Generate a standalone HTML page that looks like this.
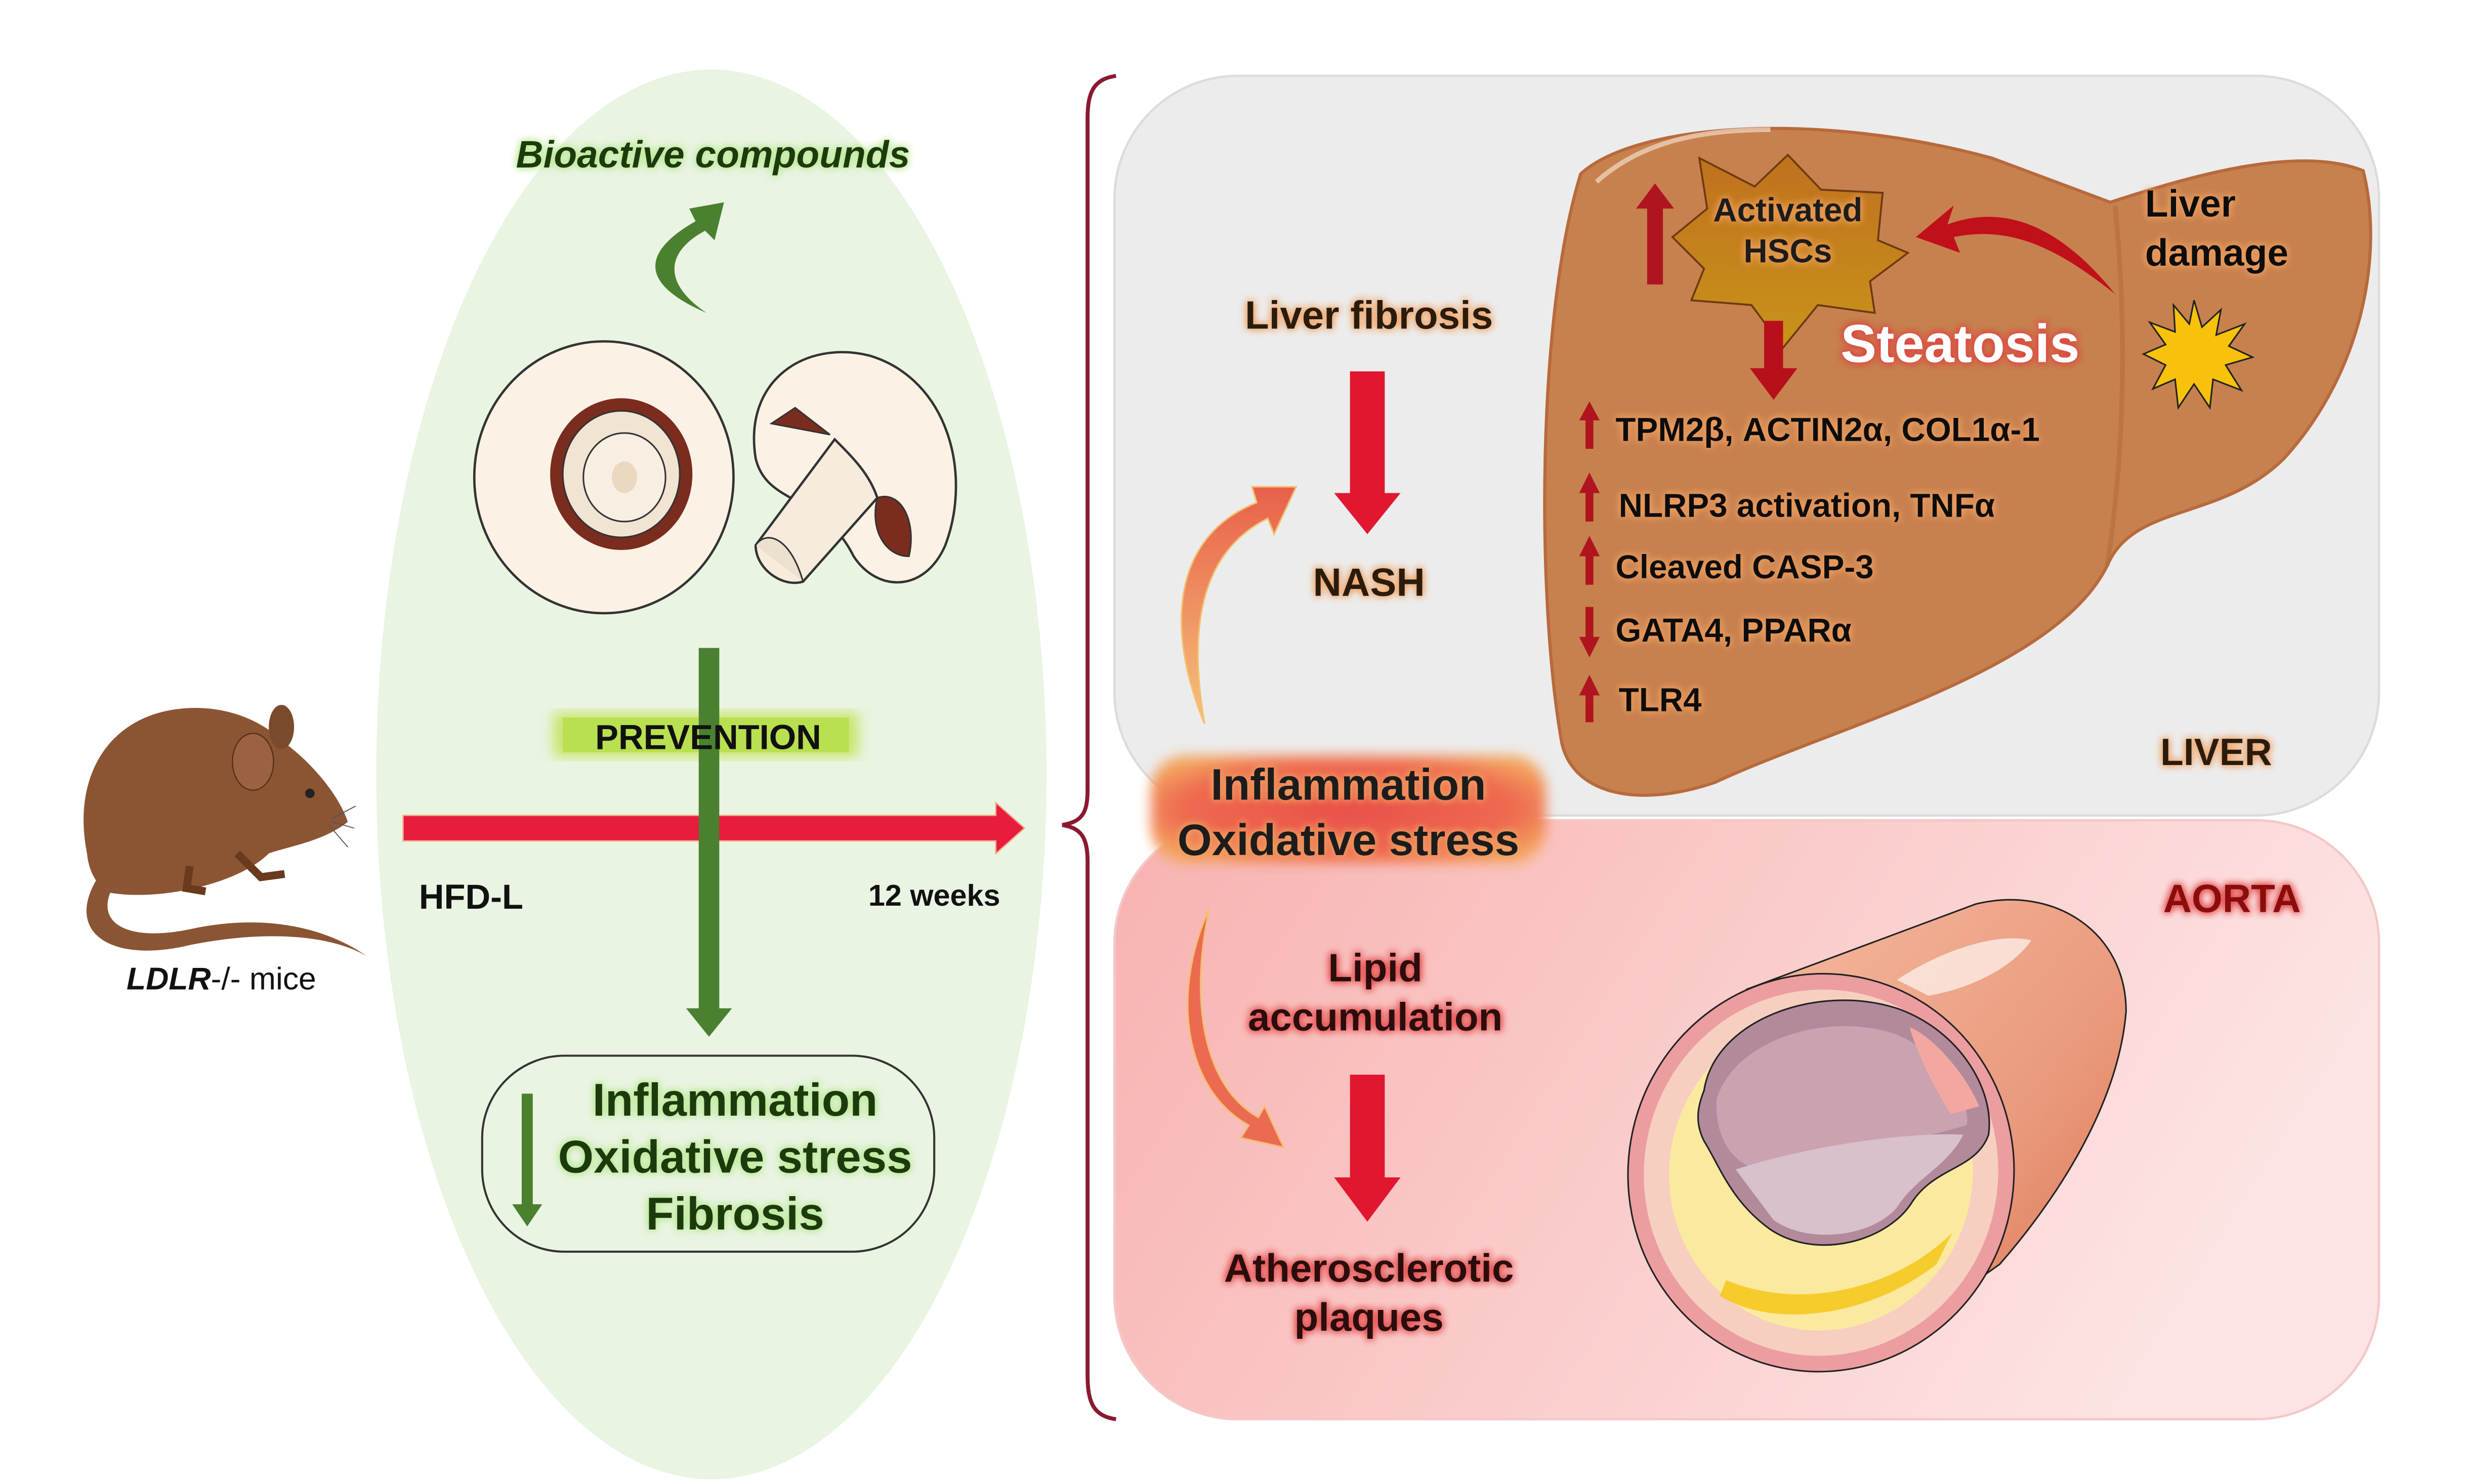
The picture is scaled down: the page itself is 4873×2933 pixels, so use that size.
<!DOCTYPE html>
<html><head><meta charset="utf-8"><style>
html,body{margin:0;padding:0;background:#fff}
svg{display:block}
text{font-family:"Liberation Sans",sans-serif;font-weight:bold}
</style></head><body>
<svg width="4873" height="2933" viewBox="0 0 1560 939" xmlns="http://www.w3.org/2000/svg">
<defs>
<filter id="glowO" x="-20%" y="-40%" width="140%" height="180%"><feGaussianBlur in="SourceAlpha" stdDeviation="2.5" result="b"/><feFlood flood-color="#f0a060"/><feComposite in2="b" operator="in"/><feMerge><feMergeNode/><feMergeNode/><feMergeNode in="SourceGraphic"/></feMerge></filter>
<filter id="glowR" x="-20%" y="-40%" width="140%" height="180%"><feGaussianBlur in="SourceAlpha" stdDeviation="2.5" result="b"/><feFlood flood-color="#e04040"/><feComposite in2="b" operator="in"/><feMerge><feMergeNode/><feMergeNode/><feMergeNode in="SourceGraphic"/></feMerge></filter>
<filter id="glowG" x="-20%" y="-40%" width="140%" height="180%"><feGaussianBlur in="SourceAlpha" stdDeviation="2.5" result="b"/><feFlood flood-color="#b8e890"/><feComposite in2="b" operator="in"/><feMerge><feMergeNode/><feMergeNode/><feMergeNode in="SourceGraphic"/></feMerge></filter>
<filter id="blur4"><feGaussianBlur stdDeviation="4"/></filter>
<linearGradient id="aortaBg" x1="0" y1="0" x2="1" y2="0.3"><stop offset="0" stop-color="#f7b2b0"/><stop offset="1" stop-color="#fde3e3"/></linearGradient>
<linearGradient id="tube" x1="0" y1="0" x2="1" y2="1"><stop offset="0" stop-color="#f5b9a0"/><stop offset="0.6" stop-color="#ea9a7c"/><stop offset="1" stop-color="#d9704f"/></linearGradient>
<linearGradient id="orArr" x1="0" y1="1" x2="0" y2="0"><stop offset="0" stop-color="#f6c27a"/><stop offset="1" stop-color="#e8604a"/></linearGradient>
<radialGradient id="inflBox" cx="0.5" cy="0.5" r="0.6"><stop offset="0" stop-color="#e8504a"/><stop offset="0.7" stop-color="#ef6a50"/><stop offset="1" stop-color="#f4a860"/></radialGradient>
<linearGradient id="hsc" x1="0" y1="0" x2="0" y2="1"><stop offset="0" stop-color="#c0701e"/><stop offset="1" stop-color="#c8941a"/></linearGradient>
</defs>

<ellipse cx="450" cy="490" rx="212" ry="446" fill="#e9f4e2"/>

<path d="M706,48 C692,50 688,58 688,75 L688,500 C688,515 684,520 672,522 C684,524 688,530 688,545 L688,870 C688,888 692,896 706,898" fill="none" stroke="#8a1a30" stroke-width="2.5"/>

<rect x="705" y="48" width="800" height="468" rx="78" fill="#ececec" stroke="#dcdcdc" stroke-width="1.5"/>
<rect x="705" y="519" width="800" height="379" rx="78" fill="url(#aortaBg)" stroke="#f4c8c8" stroke-width="1.5"/>

<path d="M1000,110 C1035,78 1150,70 1260,100 L1335,128 C1390,110 1455,92 1495,108 C1508,160 1495,235 1445,290 C1405,330 1350,318 1333,358 C1300,425 1160,460 1085,495 C1035,512 995,502 988,470 C972,380 972,200 1000,110 Z" fill="#c7814f" stroke="#b86a3c" stroke-width="2"/>
<path d="M1338,130 C1345,200 1345,280 1333,358" fill="none" stroke="#b56c3f" stroke-width="3" opacity="0.6"/>
<path d="M1010,115 C1040,88 1080,82 1120,82" fill="none" stroke="#f4dcc8" stroke-width="3" opacity="0.7"/>

<polygon points="1131,98 1152,120 1191,122 1188,152 1207,160 1183,178 1186,198 1150,193 1128,220 1108,193 1070,190 1078,170 1058,150 1080,132 1075,100 1110,118" fill="url(#hsc)" stroke="#6e3a10" stroke-width="1.2"/>
<text x="1131" y="140" font-size="21" text-anchor="middle" fill="#1a1a1a" filter="url(#glowO)">Activated</text>
<text x="1131" y="166" font-size="21" text-anchor="middle" fill="#1a1a1a" filter="url(#glowO)">HSCs</text>
<polygon points="1042,180 1052,180 1052,132 1059,132 1047,116 1035,132 1042,132" fill="#b0151f"/>
<path d="M1338,186 C1305,145 1270,128 1232,142 L1236,130 L1212,150 L1240,160 L1236,150 C1275,142 1305,160 1338,186 Z" fill="#c0101a"/>
<text x="1357" y="137" font-size="24" fill="#111" filter="url(#glowO)">Liver</text>
<text x="1357" y="168" font-size="24" fill="#111" filter="url(#glowO)">damage</text>
<polygon points="1388,190 1393,207 1405,196 1402,212 1420,205 1410,219 1425,226 1408,231 1418,247 1400,240 1398,258 1388,243 1378,258 1376,240 1362,246 1370,231 1356,224 1370,218 1360,204 1376,210 1375,193 1385,205" fill="#f8c20a" stroke="#222" stroke-width="1"/>
<text x="1240" y="229" font-size="34" text-anchor="middle" fill="#fff" filter="url(#glowR)">Steatosis</text>
<polygon points="1116,203 1128,203 1128,233 1137,233 1122,253 1107,233 1116,233" fill="#b8101a"/>

<g font-size="21" fill="#111" filter="url(#glowO)">
<text x="1022" y="279">TPM2β, ACTIN2α, COL1α-1</text>
<text x="1024" y="327">NLRP3 activation, TNFα</text>
<text x="1022" y="366">Cleaved CASP-3</text>
<text x="1022" y="406">GATA4, PPARα</text>
<text x="1024" y="450">TLR4</text>
</g>
<g fill="#b0151f">
<polygon points="1003,284 1008,284 1008,266 1012,266 1005.5,254 999,266 1003,266"/>
<polygon points="1003,330 1008,330 1008,312 1012,312 1005.5,299 999,312 1003,312"/>
<polygon points="1003,370 1008,370 1008,352 1012,352 1005.5,339 999,352 1003,352"/>
<polygon points="1003,384 1008,384 1008,403 1012,403 1005.5,416 999,403 1003,403"/>
<polygon points="1003,457 1008,457 1008,440 1012,440 1005.5,427 999,440 1003,440"/>
</g>
<text x="1402" y="484" font-size="24" text-anchor="middle" fill="#2a1a0a" filter="url(#glowO)">LIVER</text>

<text x="866" y="208" font-size="25" text-anchor="middle" fill="#2a1a0a" filter="url(#glowO)">Liver fibrosis</text>
<polygon points="854,235 876,235 876,312 886,312 865,338 844,312 854,312" fill="#e0172f"/>
<text x="866" y="377" font-size="25" text-anchor="middle" fill="#2a1a0a" filter="url(#glowO)">NASH</text>
<path d="M762,458 C738,400 740,340 795,318 L792,308 L820,308 L806,338 L802,328 C758,350 752,400 762,458 Z" fill="url(#orArr)" stroke="#f2c070" stroke-width="1"/>
<path d="M765,575 C740,630 750,690 790,712 L785,720 L812,726 L800,700 L796,707 C762,688 752,635 765,575 Z" fill="#ec6a50" stroke="#f2c070" stroke-width="1"/>

<rect x="728" y="478" width="250" height="68" rx="22" fill="url(#inflBox)" filter="url(#blur4)"/>
<text x="853" y="506" font-size="28" text-anchor="middle" fill="#1a1a1a" filter="url(#glowO)">Inflammation</text>
<text x="853" y="541" font-size="28" text-anchor="middle" fill="#1a1a1a" filter="url(#glowO)">Oxidative stress</text>

<text x="1412" y="577" font-size="25" text-anchor="middle" fill="#8a0a10" filter="url(#glowR)">AORTA</text>
<text x="870" y="621" font-size="25" text-anchor="middle" fill="#2a0a0a" filter="url(#glowR)">Lipid</text>
<text x="870" y="652" font-size="25" text-anchor="middle" fill="#2a0a0a" filter="url(#glowR)">accumulation</text>
<polygon points="854,680 876,680 876,745 886,745 865,773 844,745 854,745" fill="#e0172f"/>
<text x="866" y="811" font-size="25" text-anchor="middle" fill="#2a0a0a" filter="url(#glowR)">Atherosclerotic</text>
<text x="866" y="842" font-size="25" text-anchor="middle" fill="#2a0a0a" filter="url(#glowR)">plaques</text>

<path d="M1105,626 L1250,572 C1300,560 1345,590 1345,640 C1340,700 1300,760 1265,800 L1180,860 Z" fill="url(#tube)" stroke="#222" stroke-width="1"/>
<path d="M1200,620 C1230,600 1265,590 1285,595 C1275,610 1250,625 1220,630 Z" fill="#fbe4dc" opacity="0.9"/>
<ellipse cx="1152" cy="742" rx="122" ry="126" transform="rotate(10 1152 742)" fill="#ec9da0" stroke="#222" stroke-width="1"/>
<ellipse cx="1152" cy="742" rx="112" ry="116" transform="rotate(10 1152 742)" fill="#f6cfc0"/>
<ellipse cx="1152" cy="742" rx="96" ry="100" transform="rotate(10 1152 742)" fill="#fbe9a0"/>
<path d="M1078,690 C1085,645 1150,622 1200,638 C1240,652 1262,690 1258,718 C1250,740 1225,738 1210,760 C1195,785 1150,798 1120,778 C1095,760 1088,738 1078,722 C1072,710 1074,700 1078,690 Z" fill="#b28a9c" stroke="#222" stroke-width="1"/>
<path d="M1086,695 C1098,658 1155,640 1198,654 C1230,666 1248,700 1244,712 C1210,722 1170,728 1120,740 C1098,742 1084,720 1086,695 Z" fill="#caa2b0"/>
<path d="M1098,740 C1140,726 1205,716 1242,718 C1232,738 1212,745 1200,764 C1185,782 1145,788 1122,772 Z" fill="#d8c0cc"/>
<path d="M1208,650 C1222,655 1244,680 1252,700 L1234,705 C1225,690 1214,670 1208,650 Z" fill="#f2a8a0"/>
<path d="M1088,820 C1120,840 1180,835 1225,800 L1235,780 C1200,815 1140,830 1092,810 Z" fill="#f5c410" opacity="0.8"/>

<path d="M447,198 C405,180 405,160 440,140 L436,132 L458,128 L452,152 L446,146 C420,160 420,180 447,198 Z" fill="#4a8030"/>
<text x="451" y="106" font-size="24" font-style="italic" text-anchor="middle" fill="#1a3a0a" filter="url(#glowG)">Bioactive compounds</text>

<ellipse cx="382" cy="302" rx="82" ry="86" fill="#fbf1e4" stroke="#333" stroke-width="1.5"/>
<ellipse cx="393" cy="300" rx="45" ry="48" fill="#7a2c1e"/>
<ellipse cx="393" cy="300" rx="37" ry="40" fill="#f2e4d2" stroke="#333" stroke-width="1"/>
<ellipse cx="395" cy="302" rx="26" ry="28" fill="#f8efe3" stroke="#333" stroke-width="1"/>
<ellipse cx="395" cy="302" rx="8" ry="10" fill="#ead8c0"/>
<path d="M478,290 C470,240 510,215 550,225 C600,240 615,300 598,345 C585,375 555,375 540,352 C520,312 485,320 478,290 Z" fill="#fbf1e4" stroke="#333" stroke-width="1.5"/>
<path d="M488,268 L503,258 L525,275 Z" fill="#7a2c1e" stroke="#333" stroke-width="1"/>
<path d="M555,315 C570,310 580,330 575,352 C560,352 550,335 555,315 Z" fill="#7a2c1e" stroke="#333" stroke-width="1"/>
<path d="M478,345 L528,278 C540,290 550,300 555,315 L508,368 C495,372 478,360 478,345 Z" fill="#f6ebdc" stroke="#333" stroke-width="1.5"/>
<path d="M478,345 C485,335 500,340 508,368" fill="#ece0cf" stroke="#333" stroke-width="1"/>

<polygon points="255,516 630,516 630,508 648,524 630,540 630,532 255,532" fill="#e81c3c" stroke="#f4a080" stroke-width="0.8"/>
<rect x="350" y="451" width="193" height="28" fill="#c6e66a" filter="url(#blur4)"/>
<rect x="356" y="454" width="181" height="22" fill="#b9e050"/>
<polygon points="442,410 455,410 455,638 463,638 448.5,656 434,638 442,638" fill="#4a8030"/>
<text x="448" y="474" font-size="22" text-anchor="middle" fill="#111">PREVENTION</text>

<text x="298" y="575" font-size="22" text-anchor="middle" fill="#111">HFD-L</text>
<text x="591" y="573" font-size="19" text-anchor="middle" fill="#111">12 weeks</text>

<rect x="305" y="668" width="286" height="124" rx="52" fill="none" stroke="#333" stroke-width="1.3"/>
<polygon points="330,692 337,692 337,762 343,762 333.5,776 324,762 330,762" fill="#4a8030"/>
<g font-size="29" text-anchor="middle" fill="#1a3a0a" filter="url(#glowG)">
<text x="465" y="706">Inflammation</text>
<text x="465" y="742">Oxidative stress</text>
<text x="465" y="778">Fibrosis</text>
</g>

<path d="M62,555 C40,590 70,610 120,598 C170,588 210,592 232,605 C205,586 165,578 120,588 C82,596 58,585 72,560 Z" fill="#8a5535"/>
<path d="M55,540 C45,490 70,450 120,448 C150,447 170,460 180,470 C200,485 215,505 220,520 C205,532 185,535 170,540 C150,560 100,570 70,565 C60,560 56,550 55,540 Z" fill="#8b5534"/>
<ellipse cx="178" cy="460" rx="8" ry="14" fill="#7a4a2c"/>
<ellipse cx="160" cy="482" rx="13" ry="18" fill="#9a6242" stroke="#5a3018" stroke-width="0.8"/>
<circle cx="196" cy="502" r="3" fill="#222"/>
<path d="M150,540 L165,555 L180,553 M120,548 L118,562 L130,564" stroke="#6a3a1e" stroke-width="5" fill="none"/>
<path d="M210,518 L225,510 M210,520 L224,524 M208,522 L220,536" stroke="#555" stroke-width="0.6"/>
<text x="140" y="626" font-size="20" text-anchor="middle" fill="#111"><tspan font-style="italic">LDLR</tspan><tspan font-weight="normal">-/- mice</tspan></text>
</svg>
</body></html>
